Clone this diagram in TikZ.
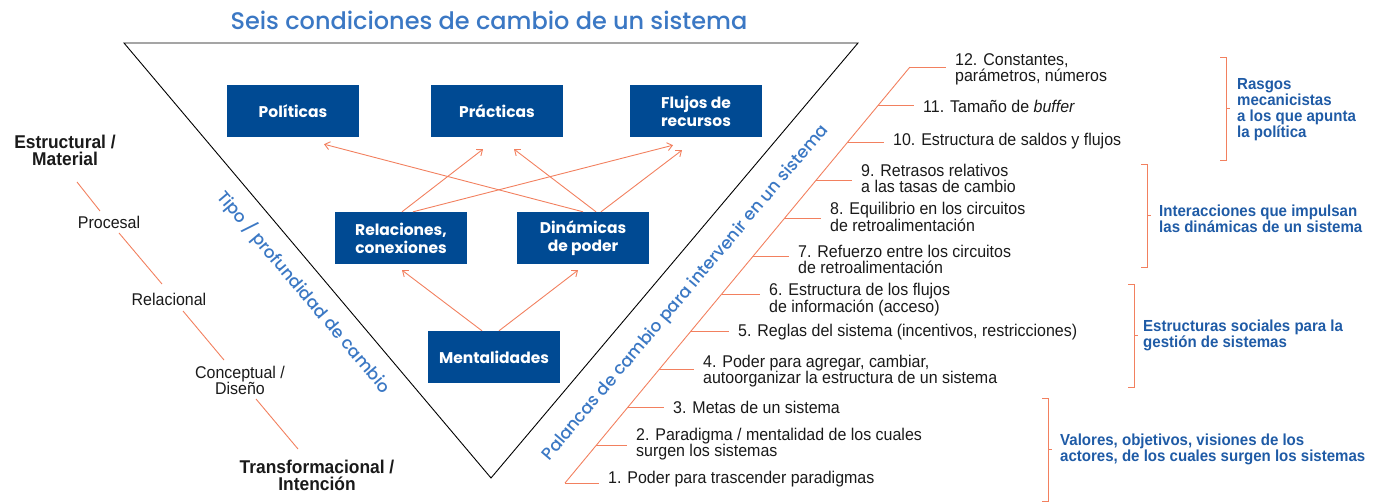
\documentclass[tikz,border=0pt]{standalone}
\usepackage{fontspec}
\setmainfont{Liberation Sans}[FakeStretch=0.94]
\newfontfamily\geo{Poppins}
\newfontfamily\geomed{Poppins Medium}
\usetikzlibrary{arrows.meta,calc}
\definecolor{boxblue}{HTML}{004A93}
\definecolor{titleblue}{HTML}{3B78C4}
\definecolor{labblue}{HTML}{1F5BA6}
\definecolor{sal}{HTML}{F2805F}
\definecolor{txt}{HTML}{1A1A1A}
\newcommand\lvfont{\fontsize{17pt}{16pt}\selectfont}
\newcommand\lbfont{\bfseries\fontsize{18.5pt}{17pt}\selectfont}
\newcommand\brfont{\bfseries\fontsize{16pt}{16pt}\selectfont}
\begin{document}
\begin{tikzpicture}[x=1pt,y=-1pt,
  sixbox/.style={fill=boxblue,minimum width=132pt,minimum height=52pt,inner sep=0pt,
    text=white,align=center,font=\geo\bfseries\fontsize{15.5pt}{18pt}\selectfont},
  lev/.style={draw=sal,line width=0.9pt},
  arr/.style={draw=sal,line width=0.9pt,-{Straight Barb[length=5pt,width=8pt]}},
  lvitem/.style={anchor=west,align=left,inner sep=0pt,text=txt,font=\lvfont},
  sidelab/.style={align=center,inner sep=0pt,text=txt,font=\lvfont},
  sidebold/.style={align=center,inner sep=0pt,text=txt,font=\lbfont},
  brlab/.style={anchor=west,align=left,inner sep=0pt,text=labblue,font=\brfont},
  edgelab/.style={inner sep=0pt,text=titleblue,font=\geomed\fontsize{17pt}{20pt}\selectfont}
]
\useasboundingbox (0,0) rectangle (1384,502);

% title
\node[inner sep=0pt,text=titleblue,font=\geomed\fontsize{24pt}{28pt}\selectfont] (title) at (489,20) {Seis condiciones de cambio de un sistema};

% triangle
\coordinate (tl) at (124,43);
\coordinate (tr) at (858,43);
\coordinate (ap) at (491,478);
\draw[line width=0.9pt] (tl) -- (tr) -- (ap) -- cycle;

% boxes
\node[sixbox] (pol) at (293,111) {Políticas};
\node[sixbox] (prac) at (497,111) {Prácticas};
\node[sixbox] (flu) at (696,111) {Flujos de\\recursos};
\node[sixbox] (rel) at (401,238) {Relaciones,\\conexiones};
\node[sixbox] (din) at (583,238) {Dinámicas\\de poder};
\node[sixbox] (ment) at (494,357) {Mentalidades};

% arrows
\draw[arr] ($(rel.north)+(1,0)$) -- ($(prac.south)+(-14,12)$);
\draw[arr] ($(rel.north)+(12,0)$) -- ($(flu.south)+(-23,8)$);
\draw[arr] ($(din.north)+(0,0)$) -- ($(pol.south)+(31,7)$);
\draw[arr] ($(din.north)+(13,0)$) -- ($(prac.south)+(17,12)$);
\draw[arr] ($(din.north)+(18,0)$) -- ($(flu.south)+(-14,13)$);
\draw[arr] ($(ment.north)+(-12,0)$) -- ($(rel.south)+(1,6)$);
\draw[arr] ($(ment.north)+(5,0)$) -- ($(din.south)+(-5,6)$);

% edge labels
\node[edgelab,rotate=-49.8] (tipo) at (304,292) {Tipo / profundidad de cambio};
\node[edgelab,rotate=49.8] (pal) at (686,293) {Palancas de cambio para intervenir en un sistema};

% left scale
\node[sidebold] (estr) at (65,150) {Estructural /\\Material};
\node[sidelab] (proc) at (109,222) {Procesal};
\node[sidelab] (relac) at (169,299) {Relacional};
\node[sidelab] (conc) at (240,380) {Conceptual /\\Diseño};
\node[sidebold] (trans) at (317,475) {Transformacional /\\Intención};
\coordinate (s1a) at (77,182);  \coordinate (s1b) at (100,211);
\coordinate (s2a) at (119,233); \coordinate (s2b) at (162,284);
\coordinate (s3a) at (183,311); \coordinate (s3b) at (224,360);
\coordinate (s4a) at (256,399); \coordinate (s4b) at (298,449);
\draw[lev] (s1a) -- (s1b);
\draw[lev] (s2a) -- (s2b);
\draw[lev] (s3a) -- (s3b);
\draw[lev] (s4a) -- (s4b);

% leverage points
\node[lvitem] (t1) at (608,479) {1. Poder para trascender paradigmas};
\node[lvitem] (t2) at (636,444.5) {2. Paradigma / mentalidad de los cuales\\surgen los sistemas};
\node[lvitem] (t3) at (673,407) {3. Metas de un sistema};
\node[lvitem] (t4) at (703,371) {4. Poder para agregar, cambiar,\\autoorganizar la estructura de un sistema};
\node[lvitem] (t5) at (738,332) {5. Reglas del sistema (incentivos, restricciones)};
\node[lvitem] (t6) at (769,300) {6. Estructura de los flujos\\de información (acceso)};
\node[lvitem] (t7) at (798,259) {7. Refuerzo entre los circuitos\\de retroalimentación};
\node[lvitem] (t8) at (830,217) {8. Equilibrio en los circuitos\\de retroalimentación};
\node[lvitem] (t9) at (861,178) {9. Retrasos relativos\\a las tasas de cambio};
\node[lvitem] (t10) at (893,141) {10. Estructura de saldos y flujos};
\node[lvitem] (t11) at (923,106) {11. Tamaño de \textit{buffer}};
\node[lvitem] (t12) at (955,69) {12. Constantes,\\parámetros, números};

\coordinate (lb) at (565,483);
\coordinate (lt) at (909.8,67.2);
\draw[lev] (lb) -- (lt);
\foreach \i in {1,...,12}{
  \coordinate (d\i) at ($(lb)!{(\i-1)/11}!(lt)$);
  \draw[lev] (d\i) -- ($(d\i -| t\i.west)+(-9,0)$);
}

% brackets
\node[brlab] (b1) at (1237,110) {Rasgos\\mecanicistas\\a los que apunta\\la política};
\node[brlab] (b2) at (1159,218.5) {Interacciones que impulsan\\las dinámicas de un sistema};
\node[brlab] (b3) at (1143,335) {Estructuras sociales para la\\gestión de sistemas};
\node[brlab] (b4) at (1060,449) {Valores, objetivos, visiones de los\\actores, de los cuales surgen los sistemas};
\foreach \x/\ya/\yb in {1226/57/160, 1147/164/267, 1134/284/387, 1048/398/501}{
  \draw[lev] (\x-6,\ya) -- (\x,\ya) -- (\x,\yb) -- (\x-6,\yb);
  \draw[lev] (\x,{(\ya+\yb)/2}) -- (\x+4,{(\ya+\yb)/2});
}
\end{tikzpicture}
\end{document}
